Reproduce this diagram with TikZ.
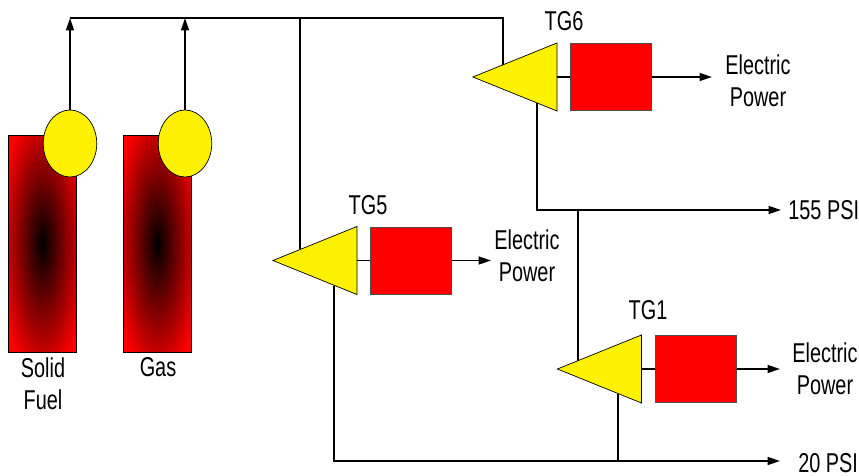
\documentclass[tikz,border=0pt]{standalone}
\usepackage{fontspec}
\setmainfont[FakeStretch=0.73]{Liberation Sans}
\usetikzlibrary{arrows.meta}
\usetikzlibrary{shapes.geometric}
\pgfdeclareradialshading{flame}{\pgfpoint{0bp}{0bp}}{color(0bp)=(black); color(32bp)=(red); color(50bp)=(red)}
\tikzset{
  furnace/.style={rectangle,draw=black,thin,shading=flame,minimum width=1.36cm,minimum height=4.34cm,inner sep=0},
  drum/.style={ellipse,draw=black,thin,fill=yellow,minimum width=1.07cm,minimum height=1.34cm,inner sep=0},
  turbine/.style={isosceles triangle,isosceles triangle stretches,shape border rotate=180,draw=black,thin,fill=yellow,minimum width=1.36cm,minimum height=1.68cm,inner sep=0,anchor=apex},
  generator/.style={rectangle,draw=black!70,thin,fill=red,minimum width=1.63cm,minimum height=1.34cm,inner sep=0},
  pipe/.style={draw=black,line width=0.9pt},
  flow/.style={pipe,-{Triangle[length=2.5mm,width=1.6mm]}},
  lbl/.style={font=\fontsize{15.5}{18}\selectfont,align=center,inner sep=0}
}
\begin{document}
\begin{tikzpicture}[x=0.02cm,y=-0.02cm]
\useasboundingbox (0,0) rectangle (859,476);

\node[furnace] (solid) at (42.5,243.5) {};
\node[furnace] (gas) at (157.5,243.5) {};
\node[drum] (drumA) at (70,143.5) {};
\node[drum] (drumB) at (185,143.5) {};
\node[lbl] (solidlbl) at (43,384) {Solid\\Fuel};
\node[lbl] (gaslbl) at (158,367) {Gas};

\node[turbine] (tg6) at (472,77) {};
\node[generator] (gen6) at (611,77) {};
\node[lbl] (tg6lbl) at (564,21) {TG6};
\node[lbl] (elec6) at (758,81) {Electric\\Power};

\node[turbine] (tg5) at (272,260.5) {};
\node[generator] (gen5) at (411,260.5) {};
\node[lbl] (tg5lbl) at (368,205) {TG5};
\node[lbl] (elec5) at (527,255.5) {Electric\\Power};

\node[turbine] (tg1) at (556.5,369) {};
\node[generator] (gen1) at (696,369) {};
\node[lbl] (tg1lbl) at (648,310) {TG1};
\node[lbl] (elec1) at (825,369) {Electric\\Power};

\node[lbl,anchor=west] (psi155) at (788,210) {155 PSI};
\node[lbl,anchor=west] (psi20) at (798,463) {20 PSI};

\coordinate (hdrA) at (70,18);
\coordinate (hdrB) at (185,18);
\coordinate (hdrC) at (300,18);
\coordinate (hdrD) at (503,18);
\coordinate (in6) at (503,65);
\coordinate (in5) at (300,249);
\coordinate (in1) at (578,361);
\coordinate (ex6) at (537,103);
\coordinate (ex5) at (334,286);
\coordinate (ex1) at (618,394);
\coordinate (bus155) at (537,210);
\coordinate (tap155) at (578,210);
\coordinate (bus20) at (334,461);
\coordinate (tap20) at (618,461);
\coordinate (end155) at (781,210);
\coordinate (end20) at (780,461);
\coordinate (out6) at (712,77);
\coordinate (out5) at (491,260.5);
\coordinate (out1) at (780,369);

\draw[flow] (drumA.north) -- (hdrA);
\draw[flow] (drumB.north) -- (hdrB);
\draw[pipe] (hdrA) -- (hdrD) -- (in6);
\draw[pipe] (hdrC) -- (in5);

\draw[pipe] (tg6.east) -- (gen6.west);
\draw[pipe] (tg5.east) -- (gen5.west);
\draw[pipe] (tg1.east) -- (gen1.west);
\draw[flow] (gen6.east) -- (out6);
\draw[flow] (gen5.east) -- (out5);
\draw[flow] (gen1.east) -- (out1);

\draw[flow] (ex6) -- (bus155) -- (end155);
\draw[pipe] (tap155) -- (in1);
\draw[flow] (ex5) -- (bus20) -- (end20);
\draw[pipe] (ex1) -- (tap20);

\end{tikzpicture}
\end{document}
